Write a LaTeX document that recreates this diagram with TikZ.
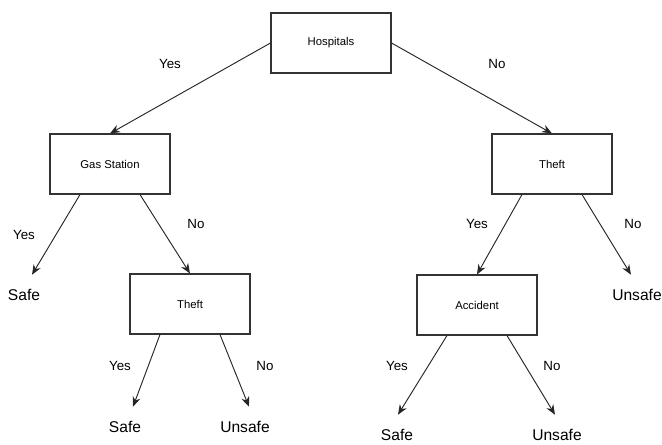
\documentclass[tikz,border=0pt]{standalone}
\usepackage{fontspec}
\setmainfont{Liberation Sans}
\usetikzlibrary{arrows.meta,calc}

\begin{document}
\begin{tikzpicture}[
      x=0.75pt,y=-0.75pt,
      mybox/.style={
         rectangle,
         draw=black!80,
         line width=0.8pt,
         minimum width=90pt,
         minimum height=45pt,
         inner sep=0pt,
         font=\fontsize{8.5}{10}\selectfont},
      myleaf/.style={
         inner sep=0pt,
         minimum height=30pt,
         font=\fontsize{11.7}{14}\selectfont},
      mylabel/.style={font=\fontsize{10}{12}\selectfont},
      myarrow/.style={-{Stealth[length=7.5pt,width=6pt]},line width=0.7pt,draw=black!85}
      ]
      \useasboundingbox (0,0) rectangle (662,444);

      \node[mybox] (hosp) at (331,43) {Hospitals};
      \node[mybox] (gas) at (110,164) {Gas Station};
      \node[mybox] (theftR) at (552,164) {Theft};
      \node[mybox] (theftL) at (190,304) {Theft};
      \node[mybox] (acc) at (477,305) {Accident};

      \node[myleaf] (safeA) at (24,295) {Safe};
      \node[myleaf] (unsafeA) at (637,295) {Unsafe};
      \node[myleaf] (safeB) at (125,427) {Safe};
      \node[myleaf] (unsafeB) at (245,427) {Unsafe};
      \node[myleaf] (safeC) at (397,435) {Safe};
      \node[myleaf] (unsafeC) at (557,435) {Unsafe};

      \node[mylabel] (yesH) at (170,64) {Yes};
      \node[mylabel] (noH) at (497,64) {No};
      \node[mylabel] (yesG) at (24,235) {Yes};
      \node[mylabel] (noG) at (196,224) {No};
      \node[mylabel] (yesT) at (477,224) {Yes};
      \node[mylabel] (noT) at (633,224) {No};
      \node[mylabel] (yesL) at (120,366) {Yes};
      \node[mylabel] (noL) at (265,366) {No};
      \node[mylabel] (yesA) at (397,366) {Yes};
      \node[mylabel] (noA) at (552,366) {No};

      \draw[myarrow] (hosp.west) -- (gas.north);
      \draw[myarrow] (hosp.east) -- (theftR.north);

    \foreach \i/\si/\j/\sj in {% start node/shift/end node/shift
      gas/-30/safeA/8,
      gas/30/theftL/0,
      theftR/-30/acc/0,
      theftR/30/unsafeA/-6,
      theftL/-30/safeB/8,
      theftL/30/unsafeB/4,
      acc/-30/safeC/1,
      acc/30/unsafeC/-2}
       \draw[myarrow] ($(\i.south)+(\si,0)$) -- ($(\j.north)+(\sj,0)$);

\end{tikzpicture}
\end{document}
